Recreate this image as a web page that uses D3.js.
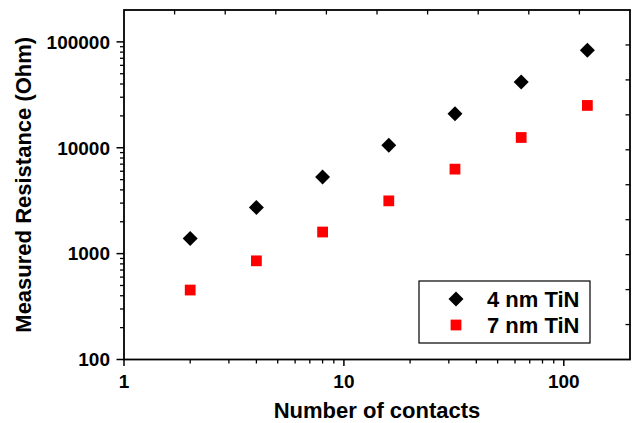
<!DOCTYPE html>
<html>
<head>
<meta charset="utf-8">
<script src="https://cdn.jsdelivr.net/npm/d3@7"></script>
<style>
  body { margin: 0; background: #fff; }
  text { font-family: "Liberation Sans", Arial, sans-serif; font-weight: bold; fill: #000; }
</style>
</head>
<body>
<div id="chart"></div>
<script>
// data
const contacts = [2, 4, 8, 16, 32, 64, 128];
const tin4 = [1390, 2730, 5300, 10550, 20900, 41800, 83500];
const tin7 = [453, 855, 1600, 3150, 6280, 12500, 25100];
const seriesNames = ["4 nm TiN", "7 nm TiN"];
const xTickLabels = [1, 10, 100];
const yTickLabels = [100, 1000, 10000, 100000];

const W = 636, H = 423;
const margin = {top: 10, right: 6, bottom: 63.5, left: 124};
const width = W - margin.left - margin.right;
const height = H - margin.top - margin.bottom;

const svg = d3.select("#chart").append("svg")
  .attr("width", W).attr("height", H)
  .append("g")
  .attr("transform", `translate(${margin.left},${margin.top})`);

const x = d3.scaleLog().domain([1, 200]).range([0, width]);
const y = d3.scaleLog().domain([100, 200000]).range([height, 0]);

// minor ticks 2..9 for each decade
function minors(scale) {
  const out = [];
  const [a, b] = scale.domain();
  for (let p = Math.floor(Math.log10(a)); p <= Math.ceil(Math.log10(b)); p++) {
    for (let m = 2; m <= 9; m++) {
      const v = m * Math.pow(10, p);
      if (v > a && v < b) out.push(v);
    }
  }
  return out;
}

// bottom axis
const xAxis = svg.append("g").attr("transform", `translate(0,${height})`);
xAxis.selectAll("line.minor").data(minors(x)).join("line")
  .attr("x1", d => x(d)).attr("x2", d => x(d))
  .attr("y1", 0).attr("y2", 4)
  .attr("stroke", "#000").attr("stroke-width", 1.3);
xAxis.selectAll("line.major").data(xTickLabels).join("line")
  .attr("x1", d => x(d)).attr("x2", d => x(d))
  .attr("y1", 0).attr("y2", 6.5)
  .attr("stroke", "#000").attr("stroke-width", 1.5);
xAxis.selectAll("text").data(xTickLabels).join("text")
  .attr("x", d => x(d)).attr("y", 28)
  .attr("text-anchor", "middle")
  .style("font-size", "19px")
  .text(d => d);

// left axis
const yAxis = svg.append("g");
yAxis.selectAll("line.minor").data(minors(y)).join("line")
  .attr("y1", d => y(d)).attr("y2", d => y(d))
  .attr("x1", 0).attr("x2", -4)
  .attr("stroke", "#000").attr("stroke-width", 1.3);
yAxis.selectAll("line.major").data(yTickLabels).join("line")
  .attr("y1", d => y(d)).attr("y2", d => y(d))
  .attr("x1", 0).attr("x2", -7.5)
  .attr("stroke", "#000").attr("stroke-width", 1.5);
yAxis.selectAll("text").data(yTickLabels).join("text")
  .attr("x", -14).attr("y", d => y(d))
  .attr("dy", "0.36em")
  .attr("text-anchor", "end")
  .style("font-size", "19px")
  .text(d => d);

// top and right: plain evenly spaced inward ticks
const even = d3.range(1, 10).map(i => i / 10);
svg.selectAll("line.topTick").data(even).join("line")
  .attr("x1", d => d * width).attr("x2", d => d * width)
  .attr("y1", 0).attr("y2", 4.5)
  .attr("stroke", "#000").attr("stroke-width", 1.3);
svg.selectAll("line.rightTick").data(even).join("line")
  .attr("y1", d => d * height).attr("y2", d => d * height)
  .attr("x1", width).attr("x2", width - 4.5)
  .attr("stroke", "#000").attr("stroke-width", 1.3);

// frame
svg.append("rect")
  .attr("x", 0).attr("y", 0)
  .attr("width", width).attr("height", height)
  .attr("fill", "none").attr("stroke", "#000").attr("stroke-width", 1.8);

// axis titles
svg.append("text")
  .attr("x", width / 2).attr("y", height + 58)
  .attr("text-anchor", "middle")
  .style("font-size", "22px")
  .text("Number of contacts");

svg.append("text")
  .attr("transform", "rotate(-90)")
  .attr("x", -(height / 2))
  .attr("y", 31 - margin.left)
  .attr("text-anchor", "middle")
  .style("font-size", "22px")
  .text("Measured Resistance (Ohm)");

// markers
const diamond = d3.symbol().type(d3.symbolSquare).size(112);
const square = d3.symbol().type(d3.symbolSquare).size(116);

svg.append("g").selectAll("path").data(contacts).join("path")
  .attr("d", diamond)
  .attr("transform", (d, i) => `translate(${x(d)},${y(tin4[i])}) rotate(45)`)
  .attr("fill", "#000");

svg.append("g").selectAll("path").data(contacts).join("path")
  .attr("d", square)
  .attr("transform", (d, i) => `translate(${x(d)},${y(tin7[i])})`)
  .attr("fill", "#ff0000");

// legend
const legend = svg.append("g").attr("transform", `translate(${419 - margin.left},${281 - margin.top})`);
legend.append("rect")
  .attr("width", 171).attr("height", 62)
  .attr("fill", "#fff").attr("stroke", "#000").attr("stroke-width", 1.2);
legend.append("path").attr("d", diamond)
  .attr("transform", "translate(37,18) rotate(45)").attr("fill", "#000");
legend.append("path").attr("d", square)
  .attr("transform", "translate(37,44)").attr("fill", "#ff0000");
legend.selectAll("text").data(seriesNames).join("text")
  .attr("x", 68).attr("y", (d, i) => 26 + i * 26)
  .style("font-size", "22px")
  .text(d => d);
</script>
</body>
</html>
